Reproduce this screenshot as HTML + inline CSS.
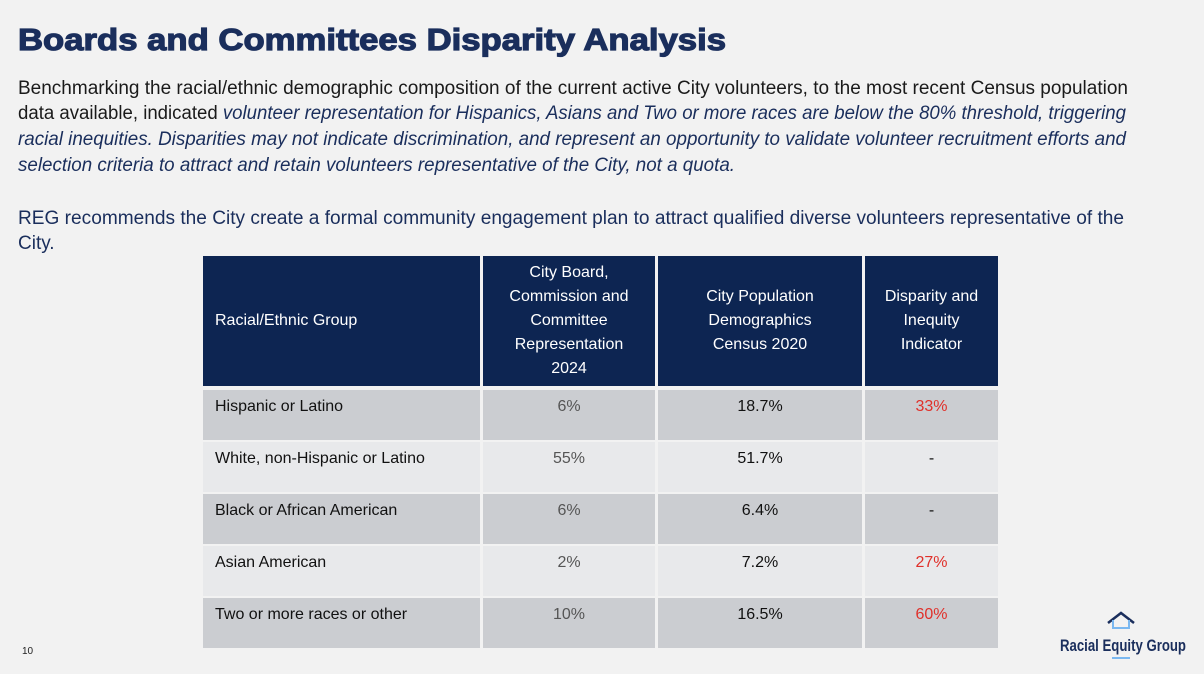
<!DOCTYPE html>
<html><head><meta charset="utf-8"><style>
body{margin:0;width:1204px;height:674px;background:#f2f2f2;position:relative;overflow:hidden;font-family:"Liberation Sans",sans-serif}
.ln{position:absolute;left:18px;white-space:nowrap;font-family:"Liberation Sans Narrow","Liberation Sans",sans-serif;font-size:19px;color:#1a1a1a;transform-origin:0 0}
.em{color:#1a2e5c;font-style:italic}
.nv{color:#1a2e5c}
#title{position:absolute;left:18px;top:22px;font-size:31px;font-weight:bold;color:#1a2e5c;white-space:nowrap;-webkit-text-stroke:1.2px #1a2e5c;transform-origin:0 0}
.c{position:absolute;font-size:16px;box-sizing:border-box}
.h{background:#0d2552;color:#fff;display:flex;align-items:center;justify-content:center;text-align:center;line-height:24px}
.r{padding-top:8px;text-align:center}
</style></head><body>
<div id="title" data-w="708">Boards and Committees Disparity Analysis</div>
<div class="ln" style="top:78px" data-w="1110">Benchmarking the racial/ethnic demographic composition of the current active City volunteers, to the most recent Census population</div>
<div class="ln" style="top:103px" data-w="1108">data available, indicated <span class="em">volunteer representation for Hispanics, Asians and Two or more races are below the 80% threshold, triggering</span></div>
<div class="ln em" style="top:129px" data-w="1108">racial inequities. Disparities may not indicate discrimination, and represent an opportunity to validate volunteer recruitment efforts and</div>
<div class="ln em" style="top:155px" data-w="717">selection criteria to attract and retain volunteers representative of the City, not a quota.</div>
<div class="ln nv" style="top:208px" data-w="1106">REG recommends the City create a formal community engagement plan to attract qualified diverse volunteers representative of the</div>
<div class="ln nv" style="top:233px">City.</div>
<div id="tbl"></div>
<div style="position:absolute;left:22px;top:646px;font-size:10px;color:#222">10</div>
<svg style="position:absolute;left:1058px;top:605px" width="135" height="60">
<polyline points="50,18 63,8 76,18" fill="none" stroke="#1a2e5c" stroke-width="2.5"/>
<polyline points="55,15 55,23 71,23 71,15" fill="none" stroke="#7ab8f0" stroke-width="2"/>
<text x="2" y="46" font-family="Liberation Sans Narrow,Liberation Sans,sans-serif" font-size="17" font-weight="bold" fill="#1a2e5c" textLength="126" lengthAdjust="spacingAndGlyphs">Racial Equity Group</text>
<line x1="54" y1="53" x2="72" y2="53" stroke="#7ab8f0" stroke-width="2"/>
</svg>
<script>
const headers=["Racial/Ethnic Group","City Board,<br>Commission and<br>Committee<br>Representation<br>2024","City Population<br>Demographics<br>Census 2020","Disparity and<br>Inequity<br>Indicator"];
const groups=["Hispanic or Latino","White, non-Hispanic or Latino","Black or African American","Asian American","Two or more races or other"];
const representation=["6%","55%","6%","2%","10%"];
const census=["18.7%","51.7%","6.4%","7.2%","16.5%"];
const indicator=["33%","-","-","27%","60%"];
const colX=[203,483,658,865], colW=[277,172,204,133];
const t=document.getElementById('tbl');
headers.forEach((h,i)=>{const d=document.createElement('div');d.className='c h';


d.style.cssText=`left:${colX[i]}px;top:256px;width:${colW[i]}px;height:130px;`+(i==0?'justify-content:flex-start;padding-left:12px;':'');d.innerHTML=h;t.appendChild(d);});
groups.forEach((g,r)=>{const vals=[g,representation[r],census[r],indicator[r]];
vals.forEach((v,i)=>{const d=document.createElement('div');d.className='c r';


const top=390+r*52;d.style.cssText=`left:${colX[i]}px;top:${top}px;width:${colW[i]}px;height:50px;background:${r%2?'#e8e9eb':'#cbcdd1'};color:${i==1?'#555':i==3&&v!='-'?'#e0302a':'#111'};`+(i==0?'text-align:left;padding-left:12px;':'');d.textContent=v;t.appendChild(d);});});
document.querySelectorAll('[data-w]').forEach(e=>{const w=e.getBoundingClientRect().width;e.style.transform=`scaleX(${e.dataset.w/w})`;});
</script>
</body></html>
